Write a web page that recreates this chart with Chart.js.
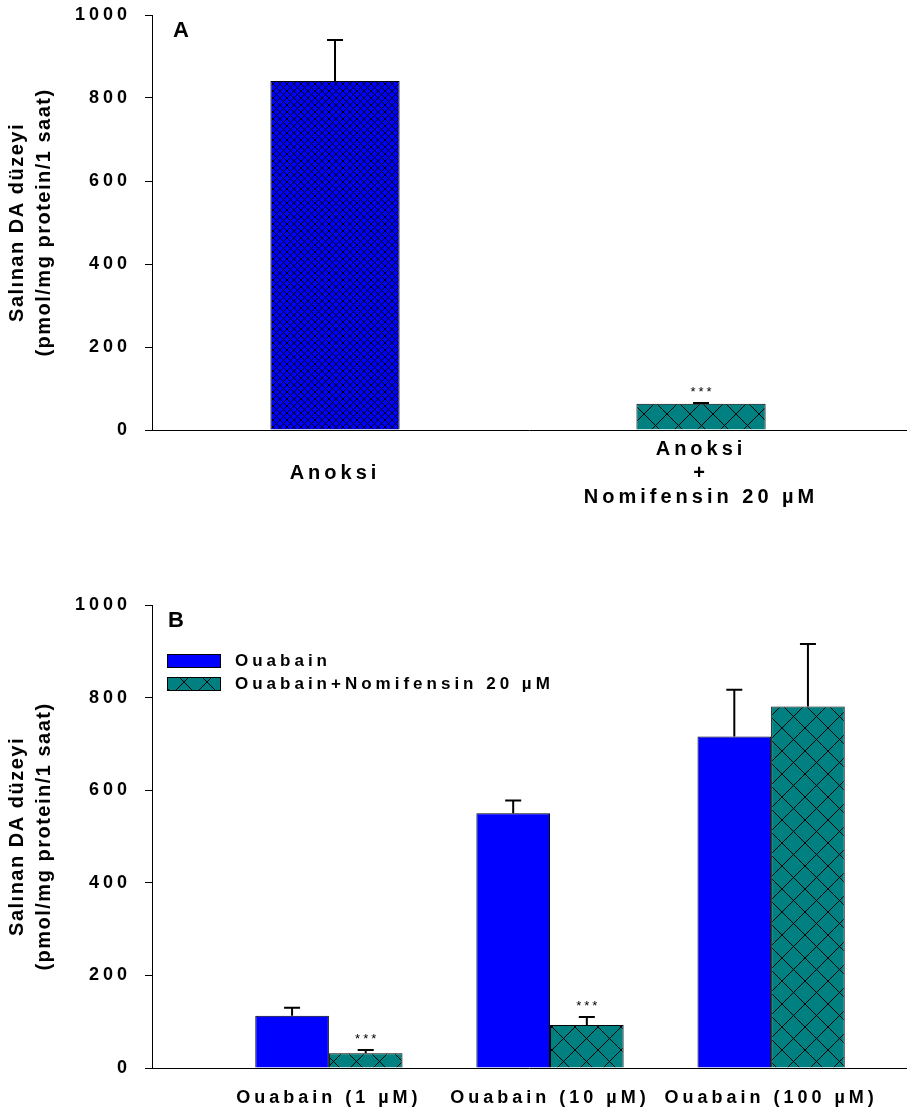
<!DOCTYPE html>
<html>
<head>
<meta charset="utf-8">
<script src="https://cdn.jsdelivr.net/npm/chart.js@4/dist/chart.umd.min.js"></script>
<style>
  html, body { margin: 0; padding: 0; background: #fff; }
  #wrap { position: relative; width: 915px; height: 1113px; }
  .panel { position: absolute; left: 0; width: 915px; }
  #panelA { top: 0; height: 530px; }
  #panelB { top: 590px; height: 523px; }
</style>
</head>
<body>
<div id="wrap">
  <div class="panel" id="panelA"><canvas id="chartA"></canvas></div>
  <div class="panel" id="panelB"><canvas id="chartB"></canvas></div>
</div>
<script>
// Panel A: anoxia alone vs anoxia + nomifensin
const anoxiaLabels = [['Anoksi'], ['Anoksi', '+', 'Nomifensin 20 µM']];
const anoxiaMeans = [841, 63];
const anoxiaErrors = [99, 2];
const anoxiaStars = ['', '***'];

// Panel B: ouabain doses, with and without nomifensin
const ouabainLabels = ['Ouabain (1 µM)', 'Ouabain (10 µM)', 'Ouabain (100 µM)'];
const ouabainMeans = [113, 550, 716];
const ouabainErrors = [17, 28, 101];
const ouabainStars = ['', '', ''];
const nomifensinMeans = [32, 93, 781];
const nomifensinErrors = [7, 17, 135];
const nomifensinStars = ['***', '***', ''];

const yTicks = [0, 200, 400, 600, 800, 1000];
const yTitle = ['Salınan DA düzeyi', '(pmol/mg protein/1 saat)'];

const FONT = '"Liberation Sans", Arial, Helvetica, sans-serif';

// crosshatch fill: colour plus two diagonal black lines per tile
function hatch(fill, size, lw) {
  const c = document.createElement('canvas');
  c.width = size; c.height = size;
  const g = c.getContext('2d');
  g.fillStyle = fill;
  g.fillRect(0, 0, size, size);
  g.strokeStyle = '#000';
  g.lineWidth = lw;
  g.beginPath();
  for (const o of [-size, 0, size]) {
    g.moveTo(o, 0); g.lineTo(o + size, size);
    g.moveTo(o + size, 0); g.lineTo(o, size);
  }
  g.stroke();
  return g.createPattern(c, 'repeat');
}

const denseBlue = hatch('#0000ff', 7, 0.9);
const wideTeal = hatch('#008080', 23, 1);

const toPoints = (vals) => vals.map((v, i) => ({ x: i + 1, y: v }));

// axis titles are drawn with tight spacing, tick labels (z: 1, after the bars) wider
const spacing = {
  id: 'spacing',
  beforeDraw(chart, args, opts) { chart.ctx.letterSpacing = opts.title + 'px'; },
  afterDatasetsDraw(chart, args, opts) { chart.ctx.letterSpacing = opts.ticks + 'px'; }
};

// SE whiskers (upper half only) and significance stars
const errorBars = {
  id: 'errorBars',
  afterDatasetsDraw(chart) {
    const ctx = chart.ctx;
    const y = chart.scales.y;
    chart.data.datasets.forEach((ds, i) => {
      chart.getDatasetMeta(i).data.forEach((bar, j) => {
        const top = y.getPixelForValue(ds.data[j].y + ds.errors[j]);
        ctx.save();
        ctx.strokeStyle = '#000';
        ctx.lineWidth = 2;
        ctx.beginPath();
        ctx.moveTo(bar.x, bar.y);
        ctx.lineTo(bar.x, top);
        ctx.moveTo(bar.x - 8, top);
        ctx.lineTo(bar.x + 8, top);
        ctx.stroke();
        if (ds.stars[j]) {
          ctx.fillStyle = '#000';
          ctx.font = '13px ' + FONT;
          ctx.letterSpacing = '3px';
          ctx.textAlign = 'center';
          ctx.textBaseline = 'middle';
          ctx.fillText(ds.stars[j], bar.x + 1.5, top - 11);
        }
        ctx.restore();
      });
    });
  }
};

// panel letter and the boxed key in the top-left of the plot
const panelKey = {
  id: 'panelKey',
  afterDraw(chart, args, opts) {
    const ctx = chart.ctx;
    const { left, top } = chart.chartArea;
    ctx.save();
    ctx.fillStyle = '#000';
    ctx.textBaseline = 'middle';
    ctx.textAlign = 'left';
    ctx.letterSpacing = '0px';
    ctx.font = 'bold 22px ' + FONT;
    ctx.fillText(opts.letter, left + opts.letterX, top + opts.letterY);
    if (opts.showKey) {
      ctx.font = 'bold 17px ' + FONT;
      ctx.letterSpacing = '4px';
      chart.data.datasets.forEach((ds, i) => {
        const cy = top + 56 + i * 23;
        const bx = left + 15;
        ctx.fillStyle = ds.backgroundColor;
        ctx.fillRect(bx, cy - 7, 54, 14);
        ctx.strokeStyle = '#000';
        ctx.lineWidth = 1;
        ctx.strokeRect(bx + 0.5, cy - 6.5, 53, 13);
        ctx.fillStyle = '#000';
        ctx.fillText(ds.label, bx + 68, cy);
      });
    }
    ctx.restore();
  }
};

function yAxis() {
  return {
    min: 0,
    max: 1000,
    afterBuildTicks: (s) => { s.ticks = yTicks.map((v) => ({ value: v })); },
    afterFit: (s) => { s.width = 152; s.paddingTop = 0; },
    grid: { display: true, drawOnChartArea: false, drawTicks: true, tickLength: 7, color: '#000', lineWidth: 1 },
    border: { display: true, color: '#000', width: 1 },
    ticks: {
      z: 1,
      callback: (v) => String(v),
      color: '#000',
      padding: 14,
      font: { family: FONT, size: 18, weight: 'bold' }
    },
    title: {
      display: true,
      text: yTitle,
      color: '#000',
      padding: { top: 4, bottom: 0 },
      font: { family: FONT, size: 20, weight: 'bold', lineHeight: 1.35 }
    }
  };
}

new Chart(document.getElementById('chartA'), {
  type: 'bar',
  data: {
    datasets: [{
      label: 'Anoksi',
      data: toPoints(anoxiaMeans),
      errors: anoxiaErrors,
      stars: anoxiaStars,
      backgroundColor: [denseBlue, wideTeal],
      borderColor: '#000',
      borderWidth: 1,
      categoryPercentage: 0.353,
      barPercentage: 1
    }]
  },
  options: {
    responsive: true,
    maintainAspectRatio: false,
    animation: false,
    layout: { padding: { top: 15, right: 9, left: 0, bottom: 0 } },
    scales: {
      x: {
        type: 'linear',
        min: 0.5,
        max: 2.56,
        offset: false,
        afterBuildTicks: (s) => { s.ticks = anoxiaLabels.map((_, i) => ({ value: i + 1 })); },
        afterFit: (s) => { s.height = 100; },
        grid: { display: false },
        border: { display: true, color: '#000', width: 1 },
        ticks: {
          z: 1,
          callback: (v) => anoxiaLabels[v - 1],
          color: '#000',
          padding: 11,
          crossAlign: 'center',
          maxRotation: 0,
          autoSkip: false,
          font: { family: FONT, size: 20, weight: 'bold', lineHeight: 1.2 }
        }
      },
      y: yAxis()
    },
    plugins: {
      legend: { display: false },
      tooltip: { enabled: false },
      spacing: { title: 1.5, ticks: 4 },
      panelKey: { letter: 'A', letterX: 21, letterY: 16, showKey: false }
    }
  },
  plugins: [spacing, errorBars, panelKey]
});

new Chart(document.getElementById('chartB'), {
  type: 'bar',
  data: {
    datasets: [{
      label: 'Ouabain',
      data: toPoints(ouabainMeans),
      errors: ouabainErrors,
      stars: ouabainStars,
      backgroundColor: '#0000ff',
      borderColor: '#000',
      borderWidth: 1,
      categoryPercentage: 0.666,
      barPercentage: 1
    }, {
      label: 'Ouabain+Nomifensin 20 µM',
      data: toPoints(nomifensinMeans),
      errors: nomifensinErrors,
      stars: nomifensinStars,
      backgroundColor: wideTeal,
      borderColor: '#000',
      borderWidth: 1,
      categoryPercentage: 0.666,
      barPercentage: 1
    }]
  },
  options: {
    responsive: true,
    maintainAspectRatio: false,
    animation: false,
    layout: { padding: { top: 15, right: 9, left: 0, bottom: 0 } },
    scales: {
      x: {
        type: 'linear',
        min: 0.2,
        max: 3.61,
        offset: false,
        afterBuildTicks: (s) => { s.ticks = ouabainLabels.map((_, i) => ({ value: i + 1 })); },
        afterFit: (s) => { s.height = 45; },
        grid: { display: false },
        border: { display: true, color: '#000', width: 1 },
        ticks: {
          z: 1,
          callback: (v) => ouabainLabels[v - 1],
          color: '#000',
          padding: 11,
          maxRotation: 0,
          autoSkip: false,
          font: { family: FONT, size: 18, weight: 'bold', lineHeight: 1.2 }
        }
      },
      y: yAxis()
    },
    plugins: {
      legend: { display: false },
      tooltip: { enabled: false },
      spacing: { title: 1.5, ticks: 4 },
      panelKey: { letter: 'B', letterX: 16, letterY: 16, showKey: true }
    }
  },
  plugins: [spacing, errorBars, panelKey]
});
</script>
</body>
</html>
